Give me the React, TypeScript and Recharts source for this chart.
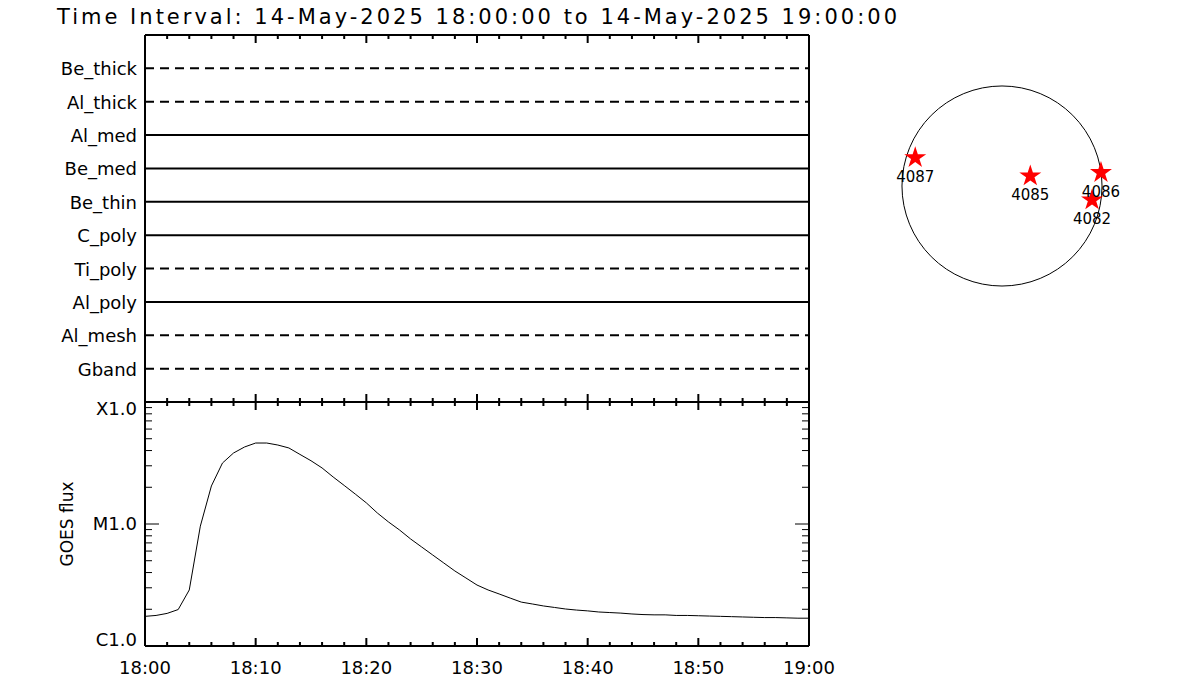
import React from 'react'
import {
  LineChart,
  Line,
  XAxis,
  YAxis,
  ScatterChart,
  Scatter,
  ReferenceDot,
  Symbols,
} from 'recharts'

// XRT filter channels, top to bottom; true = observed in interval (solid line)
const CHANNELS = ['Be_thick', 'Al_thick', 'Al_med', 'Be_med', 'Be_thin', 'C_poly', 'Ti_poly', 'Al_poly', 'Al_mesh', 'Gband']
const OBSERVED = [false, false, true, true, true, true, false, true, false, false]
const CHANNEL_ROWS = [1, 2, 3, 4, 5, 6, 7, 8, 9, 10]

// minutes after 18:00
const MINUTES = [
  0, 1, 2, 3, 4, 5, 6, 7, 8, 9, 10, 11, 12, 13, 14, 15, 16, 17, 18, 19, 20,
  21, 22, 23, 24, 25, 26, 27, 28, 29, 30, 31, 32, 33, 34, 35, 36, 37, 38, 39, 40,
  41, 42, 43, 44, 45, 46, 47, 48, 49, 50, 51, 52, 53, 54, 55, 56, 57, 58, 59, 60,
]
// GOES 1-8 A flux, W/m^2
const GOES_FLUX = [
  1.75e-6, 1.78e-6, 1.85e-6, 1.99e-6, 2.88e-6, 9.6e-6, 2.05e-5, 3.16e-5, 3.82e-5, 4.28e-5,
  4.61e-5, 4.61e-5, 4.44e-5, 4.2e-5, 3.72e-5, 3.3e-5, 2.88e-5, 2.43e-5, 2.07e-5, 1.76e-5,
  1.49e-5, 1.23e-5, 1.04e-5, 8.93e-6, 7.54e-6, 6.48e-6, 5.57e-6, 4.79e-6, 4.12e-6, 3.61e-6,
  3.16e-6, 2.88e-6, 2.67e-6, 2.47e-6, 2.29e-6, 2.21e-6, 2.13e-6, 2.07e-6, 2.01e-6, 1.97e-6,
  1.94e-6, 1.9e-6, 1.88e-6, 1.86e-6, 1.83e-6, 1.81e-6, 1.8e-6, 1.8e-6, 1.78e-6, 1.78e-6,
  1.77e-6, 1.76e-6, 1.75e-6, 1.74e-6, 1.73e-6, 1.72e-6, 1.71e-6, 1.71e-6, 1.7e-6, 1.69e-6,
  1.69e-6,
]

const TIME_TICKS = [0, 2, 4, 6, 8, 10, 12, 14, 16, 18, 20, 22, 24, 26, 28, 30, 32, 34, 36, 38, 40, 42, 44, 46, 48, 50, 52, 54, 56, 58, 60]
const TIME_MAJOR = [0, 10, 20, 30, 40, 50, 60]
const TIME_LABELS = ['18:00', '18:10', '18:20', '18:30', '18:40', '18:50', '19:00']

const FLUX_TICKS = [
  1e-6, 2e-6, 3e-6, 4e-6, 5e-6, 6e-6, 7e-6, 8e-6, 9e-6,
  1e-5, 2e-5, 3e-5, 4e-5, 5e-5, 6e-5, 7e-5, 8e-5, 9e-5, 1e-4,
]
const FLUX_MAJOR = [1e-6, 1e-5, 1e-4]
const FLUX_LABELS = ['C1.0', 'M1.0', 'X1.0']

// NOAA active regions, heliocentric arcsec
const REGIONS = ['4087', '4085', '4086', '4082']
const REGION_X = [-825, 269, 941, 856]
const REGION_Y = [269, 95, 127, -133]
const SOLAR_RADIUS = 951

const FONT = '"DejaVu Sans", sans-serif'

const channelData = [0, 60].map((t) => {
  const row: Record<string, number> = { t }
  CHANNELS.forEach((c, i) => {
    row[c] = CHANNEL_ROWS[i]
  })
  return row
})

const goesData = MINUTES.map((t, i) => ({ t, flux: GOES_FLUX[i] }))

const regionData = REGIONS.map((name, i) => ({ name, x: REGION_X[i], y: REGION_Y[i] }))

function TimeTick(props: any) {
  const { x, y, payload, dir, labels } = props
  const v = payload.value
  const idx = TIME_MAJOR.indexOf(v)
  const len = idx >= 0 ? 8 : 4
  return (
    <g>
      <line x1={x} x2={x} y1={y} y2={y + dir * len} stroke="#000" strokeWidth={2} />
      {labels && idx >= 0 && (
        <text x={x} y={y + 28} textAnchor="middle" fontFamily={FONT} fontSize={18} fill="#000">
          {TIME_LABELS[idx]}
        </text>
      )}
    </g>
  )
}

function FluxTick(props: any) {
  const { x, y, payload, dir, labels } = props
  const idx = FLUX_MAJOR.findIndex((m) => Math.abs(m - payload.value) < m * 1e-6)
  const len = idx >= 0 ? 14 : 7
  const dy = [0, 6, 13]
  return (
    <g>
      <line x1={x} x2={x + dir * len} y1={y} y2={y} stroke="#000" strokeWidth={1} />
      {labels && idx >= 0 && (
        <text x={x - 8} y={y + dy[idx]} textAnchor="end" fontFamily={FONT} fontSize={18} fill="#000">
          {FLUX_LABELS[idx]}
        </text>
      )}
    </g>
  )
}

function ChannelTick(props: any) {
  const { x, y, payload } = props
  return (
    <text x={x - 8} y={y + 7} textAnchor="end" fontFamily={FONT} fontSize={18} fill="#000">
      {CHANNELS[payload.value - 1]}
    </text>
  )
}

const axisLine = { stroke: '#000', strokeWidth: 2 }

export default function App() {
  return (
    <div style={{ position: 'absolute', left: 0, top: 0, width: 1200, height: 700, background: '#fff' }}>
      <svg width={1200} height={40} style={{ position: 'absolute', left: 0, top: 0 }}>
        <text x={57} y={24} fontFamily={FONT} fontSize={21} fill="#000" textLength={840} lengthAdjust="spacing">
          Time Interval: 14-May-2025 18:00:00 to 14-May-2025 19:00:00
        </text>
      </svg>

      <div style={{ position: 'absolute', left: 0, top: 0 }}>
        <LineChart width={860} height={410} data={channelData} margin={{ top: 34, right: 50, bottom: 7, left: 0 }}>
          <XAxis
            xAxisId="top"
            orientation="top"
            dataKey="t"
            type="number"
            domain={[0, 60]}
            ticks={TIME_TICKS}
            interval={0}
            height={1}
            tickSize={0}
            tickMargin={0}
            axisLine={axisLine}
            tick={(p: any) => <TimeTick {...p} dir={1} />}
          />
          <XAxis
            xAxisId="bottom"
            dataKey="t"
            type="number"
            domain={[0, 60]}
            ticks={TIME_TICKS}
            interval={0}
            height={1}
            tickSize={0}
            tickMargin={0}
            axisLine={axisLine}
            tick={(p: any) => <TimeTick {...p} dir={-1} />}
          />
          <YAxis
            yAxisId="left"
            type="number"
            domain={[0, 11]}
            reversed
            ticks={CHANNEL_ROWS}
            interval={0}
            width={145}
            tickSize={0}
            tickMargin={0}
            axisLine={axisLine}
            tick={(p: any) => <ChannelTick {...p} />}
          />
          <YAxis
            yAxisId="right"
            orientation="right"
            type="number"
            domain={[0, 11]}
            reversed
            width={1}
            tick={false}
            tickLine={false}
            axisLine={axisLine}
          />
          {CHANNELS.map((c, i) => (
            <Line
              key={c}
              xAxisId="top"
              yAxisId="left"
              dataKey={c}
              stroke="#000"
              strokeWidth={2}
              strokeDasharray={OBSERVED[i] ? undefined : '9 6'}
              dot={false}
              activeDot={false}
              isAnimationActive={false}
            />
          ))}
        </LineChart>
      </div>

      <div style={{ position: 'absolute', left: 0, top: 0 }}>
        <LineChart width={860} height={700} data={goesData} margin={{ top: 401, right: 50, bottom: 24, left: 0 }}>
          <XAxis
            xAxisId="top"
            orientation="top"
            dataKey="t"
            type="number"
            domain={[0, 60]}
            ticks={TIME_TICKS}
            interval={0}
            height={1}
            tickSize={0}
            tickMargin={0}
            axisLine={axisLine}
            tick={(p: any) => <TimeTick {...p} dir={1} />}
          />
          <XAxis
            xAxisId="bottom"
            dataKey="t"
            type="number"
            domain={[0, 60]}
            ticks={TIME_TICKS}
            interval={0}
            height={30}
            tickSize={0}
            tickMargin={0}
            axisLine={axisLine}
            tick={(p: any) => <TimeTick {...p} dir={-1} labels />}
          />
          <YAxis
            yAxisId="left"
            type="number"
            scale="log"
            domain={[1e-6, 1e-4]}
            allowDataOverflow
            ticks={FLUX_TICKS}
            interval={0}
            width={145}
            tickSize={0}
            tickMargin={0}
            axisLine={axisLine}
            tick={(p: any) => <FluxTick {...p} dir={1} labels />}
            label={({ viewBox }: any) => (
              <text
                x={viewBox.x + 73}
                y={viewBox.y + viewBox.height / 2}
                transform={`rotate(-90 ${viewBox.x + 73} ${viewBox.y + viewBox.height / 2})`}
                textAnchor="middle"
                fontFamily={FONT}
                fontSize={17}
                fill="#000"
              >
                GOES flux
              </text>
            )}
          />
          <YAxis
            yAxisId="right"
            orientation="right"
            type="number"
            scale="log"
            domain={[1e-6, 1e-4]}
            allowDataOverflow
            ticks={FLUX_TICKS}
            interval={0}
            width={1}
            tickSize={0}
            tickMargin={0}
            axisLine={axisLine}
            tick={(p: any) => <FluxTick {...p} dir={-1} />}
          />
          <Line
            xAxisId="bottom"
            yAxisId="left"
            dataKey="flux"
            stroke="#000"
            strokeWidth={1}
            dot={false}
            activeDot={false}
            isAnimationActive={false}
          />
        </LineChart>
      </div>

      <div style={{ position: 'absolute', left: 882, top: 66 }}>
        <ScatterChart width={240} height={240} margin={{ top: 0, right: 0, bottom: 0, left: 0 }}>
          <XAxis dataKey="x" type="number" domain={[-1141, 1141]} hide />
          <YAxis dataKey="y" type="number" domain={[-1141, 1141]} hide />
          <ReferenceDot x={0} y={0} r={(SOLAR_RADIUS / 1141) * 120} fill="none" stroke="#000" strokeWidth={1} ifOverflow="visible" />
          <Scatter
            data={regionData}
            isAnimationActive={false}
            shape={(p: any) => <Symbols type="star" size={150} cx={p.cx} cy={p.cy} fill="#ff0000" stroke="none" />}
          />
          <Scatter
            data={regionData}
            isAnimationActive={false}
            shape={(p: any) => (
              <text x={p.cx} y={p.cy + 24} textAnchor="middle" fontFamily={FONT} fontSize={15} fill="#000">
                {p.payload.name}
              </text>
            )}
          />
        </ScatterChart>
      </div>
    </div>
  )
}
